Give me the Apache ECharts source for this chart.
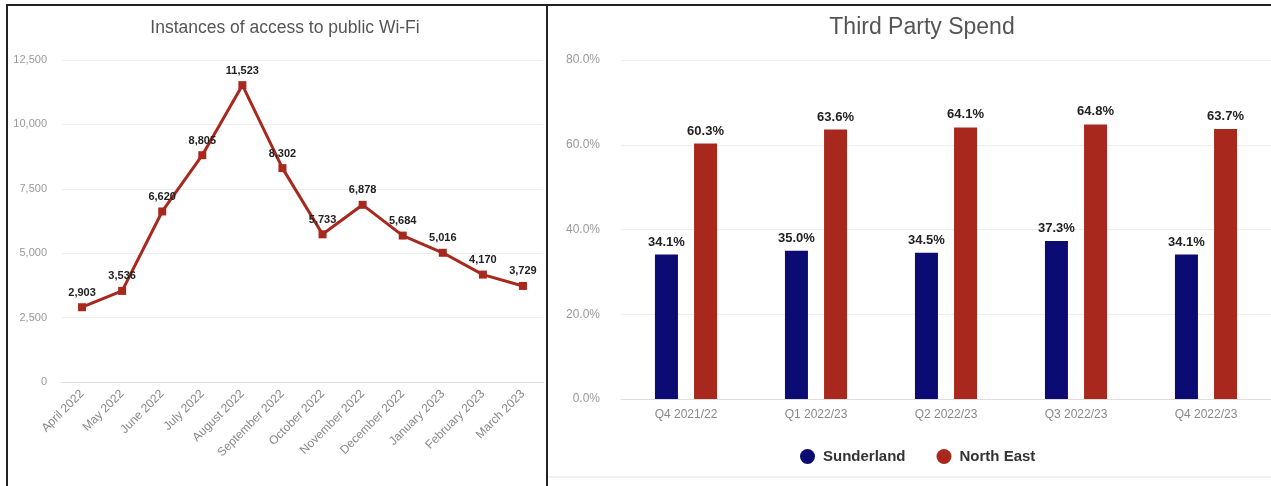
<!DOCTYPE html>
<html>
<head>
<meta charset="utf-8">
<script src="https://cdn.jsdelivr.net/npm/echarts@6/dist/echarts.min.js"></script>
<style>
html,body{margin:0;padding:0;background:#fff;}
#c{width:1271px;height:486px;}
</style>
</head>
<body>
<div id="c"></div>
<script>
// Left chart data
const wifiMonths = ['April 2022','May 2022','June 2022','July 2022','August 2022','September 2022','October 2022','November 2022','December 2022','January 2023','February 2023','March 2023'];
const wifiValues = [2903, 3536, 6620, 8805, 11523, 8302, 5733, 6878, 5684, 5016, 4170, 3729];

// Right chart data
const quarters = ['Q4 2021/22','Q1 2022/23','Q2 2022/23','Q3 2022/23','Q4 2022/23'];
const sunderland = [34.1, 35.0, 34.5, 37.3, 34.1];
const northEast = [60.3, 63.6, 64.1, 64.8, 63.7];

const chart = echarts.init(document.getElementById('c'), null, {renderer:'canvas'});
const FONT = 'Liberation Sans, Arial, sans-serif';

chart.setOption({
  animation: false,
  textStyle: {fontFamily: FONT},
  title: [
    {text: 'Instances of access to public Wi-Fi', left: 280, top: 14, textAlign: 'center',
     textStyle: {fontFamily: FONT, fontSize: 17.5, fontWeight: 'normal', color: '#555'}},
    {text: 'Third Party Spend', left: 917, top: 11, textAlign: 'center',
     textStyle: {fontFamily: FONT, fontSize: 23, fontWeight: 'normal', color: '#555'}}
  ],
  legend: {
    data: ['Sunderland', 'North East'],
    left: 795, top: 444,
    icon: 'circle', itemWidth: 15, itemHeight: 15, itemGap: 31,
    textStyle: {fontFamily: FONT, fontSize: 15, fontWeight: 'bold', color: '#333', padding: [0, 0, 0, 3]}
  },
  grid: [
    {left: 62, right: 728, top: 60, bottom: 104},
    {left: 621, right: 0, top: 60, bottom: 87}
  ],
  xAxis: [
    {type: 'category', gridIndex: 0, data: wifiMonths, boundaryGap: true,
     axisTick: {show: false},
     axisLine: {lineStyle: {color: '#d8dbe6'}},
     axisLabel: {rotate: 45, color: '#888', fontSize: 12, margin: 10, interval: 0}},
    {type: 'category', gridIndex: 1, data: quarters,
     axisTick: {show: false},
     axisLine: {lineStyle: {color: '#dddddd'}},
     axisLabel: {color: '#888', fontSize: 12, margin: 10}}
  ],
  yAxis: [
    {type: 'value', gridIndex: 0, min: 0, max: 12500, interval: 2500,
     axisLine: {show: false}, axisTick: {show: false},
     splitLine: {lineStyle: {color: '#eeeeee'}},
     axisLabel: {color: '#999', fontSize: 11, margin: 15,
       formatter: v => v.toLocaleString('en-US')}},
    {type: 'value', gridIndex: 1, min: 0, max: 80, interval: 20,
     axisLine: {show: false}, axisTick: {show: false},
     splitLine: {lineStyle: {color: '#eeeeee'}},
     axisLabel: {color: '#999', fontSize: 12, margin: 21,
       formatter: v => v.toFixed(1) + '%'}}
  ],
  series: [
    {name: 'Wi-Fi access', type: 'line', xAxisIndex: 0, yAxisIndex: 0,
     data: wifiValues, symbol: 'rect', symbolSize: 8,
     lineStyle: {color: '#a8281e', width: 3},
     itemStyle: {color: '#a8281e'},
     label: {show: true, position: 'top', fontSize: 11, fontWeight: 'bold', color: '#222',
       formatter: p => p.value.toLocaleString('en-US')}},
    {name: 'Sunderland', type: 'bar', xAxisIndex: 1, yAxisIndex: 1,
     data: sunderland, barWidth: 23, barGap: '70%',
     itemStyle: {color: '#0b0b73'},
     label: {show: true, position: 'top', distance: 6, fontSize: 13, fontWeight: 'bold', color: '#222',
       formatter: p => p.value.toFixed(1) + '%'}},
    {name: 'North East', type: 'bar', xAxisIndex: 1, yAxisIndex: 1,
     data: northEast, barWidth: 23, barGap: '70%',
     itemStyle: {color: '#a8281e'},
     label: {show: true, position: 'top', distance: 6, fontSize: 13, fontWeight: 'bold', color: '#222',
       formatter: p => p.value.toFixed(1) + '%'}}
  ],
  graphic: [
    {type: 'rect', shape: {x: 7, y: 5, width: 540, height: 495},
     style: {fill: 'none', stroke: '#222', lineWidth: 2}, silent: true, z: 100},
    {type: 'polyline', shape: {points: [[547, 5], [1275, 5]]},
     style: {fill: 'none', stroke: '#222', lineWidth: 2}, silent: true, z: 100},
    {type: 'polyline', shape: {points: [[548, 477], [1271, 477]]},
     style: {fill: 'none', stroke: '#e4e4e4', lineWidth: 1}, silent: true, z: 100}
  ]
});
</script>
</body>
</html>
